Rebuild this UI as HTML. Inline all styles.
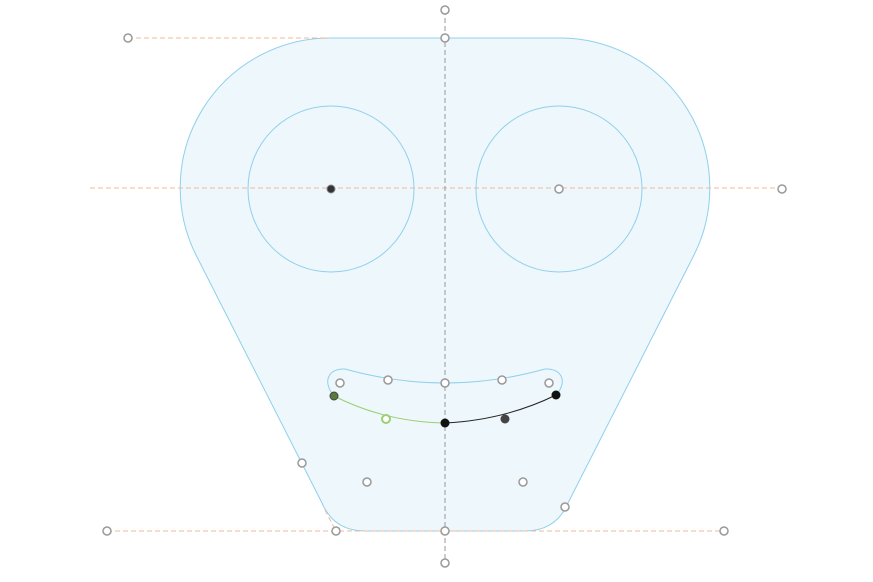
<!DOCTYPE html>
<html><head><meta charset="utf-8"><style>html,body{margin:0;background:#fff}svg{display:block}</style></head>
<body>
<svg width="873" height="582" viewBox="0 0 873 582">
<path d="M330 38 L560 38 A150 150 0 0 1 694 255 L568 503 Q556 531 525 531 L365 531 Q334 531 322 503 L196 255 A150 150 0 0 1 330 38 Z" fill="#eef7fc" stroke="#8fd0ec" stroke-width="1"/>
<g stroke="#f3b89a" stroke-dasharray="5,3" stroke-width="1">
<line x1="128" y1="38" x2="330" y2="38"/>
<line x1="90" y1="188" x2="782" y2="188"/>
<line x1="107" y1="531" x2="724" y2="531"/>
<line x1="325" y1="510" x2="336" y2="531"/>
</g>
<line x1="445" y1="10" x2="445" y2="563" stroke="#999" stroke-dasharray="5,3"/>
<circle cx="331" cy="189" r="83" fill="none" stroke="#8fd0ec"/>
<circle cx="559" cy="189" r="83" fill="none" stroke="#8fd0ec"/>
<path d="M334 396 C322 382 328 368 345 369 Q445 397 545 369 C562 368 568 382 556 395" fill="none" stroke="#8fd0ec"/>
<path d="M334 396 Q385 422 445 423" fill="none" stroke="#9ad070"/>
<path d="M445 423 Q505 420 556 395" fill="none" stroke="#222"/>
<g fill="#fff" stroke="#999" stroke-width="1.5">
<circle cx="128" cy="38" r="4"/><circle cx="445" cy="10" r="4"/><circle cx="445" cy="38" r="4"/>
<circle cx="782" cy="189" r="4"/><circle cx="559" cy="189" r="4"/>
<circle cx="340" cy="383" r="4"/><circle cx="388" cy="380" r="4"/><circle cx="445" cy="383" r="4"/><circle cx="502" cy="380" r="4"/><circle cx="549" cy="383" r="4"/>
<circle cx="302" cy="463" r="4"/><circle cx="367" cy="482" r="4"/><circle cx="523" cy="482" r="4"/><circle cx="565" cy="507" r="4"/>
<circle cx="107" cy="531" r="4"/><circle cx="336" cy="531" r="4"/><circle cx="445" cy="531" r="4"/><circle cx="724" cy="531" r="4"/><circle cx="445" cy="563" r="4"/>
</g>
<circle cx="331" cy="189" r="4" fill="#333" stroke="#888"/>
<circle cx="334" cy="396" r="4" fill="#5a7a3a" stroke="#444"/>
<circle cx="386" cy="419" r="4" fill="#fff" stroke="#9ad070" stroke-width="2"/>
<circle cx="445" cy="423" r="4.5" fill="#111"/>
<circle cx="505" cy="419" r="4.5" fill="#444"/>
<circle cx="556" cy="395" r="4.5" fill="#111"/>
</svg>
</body></html>
